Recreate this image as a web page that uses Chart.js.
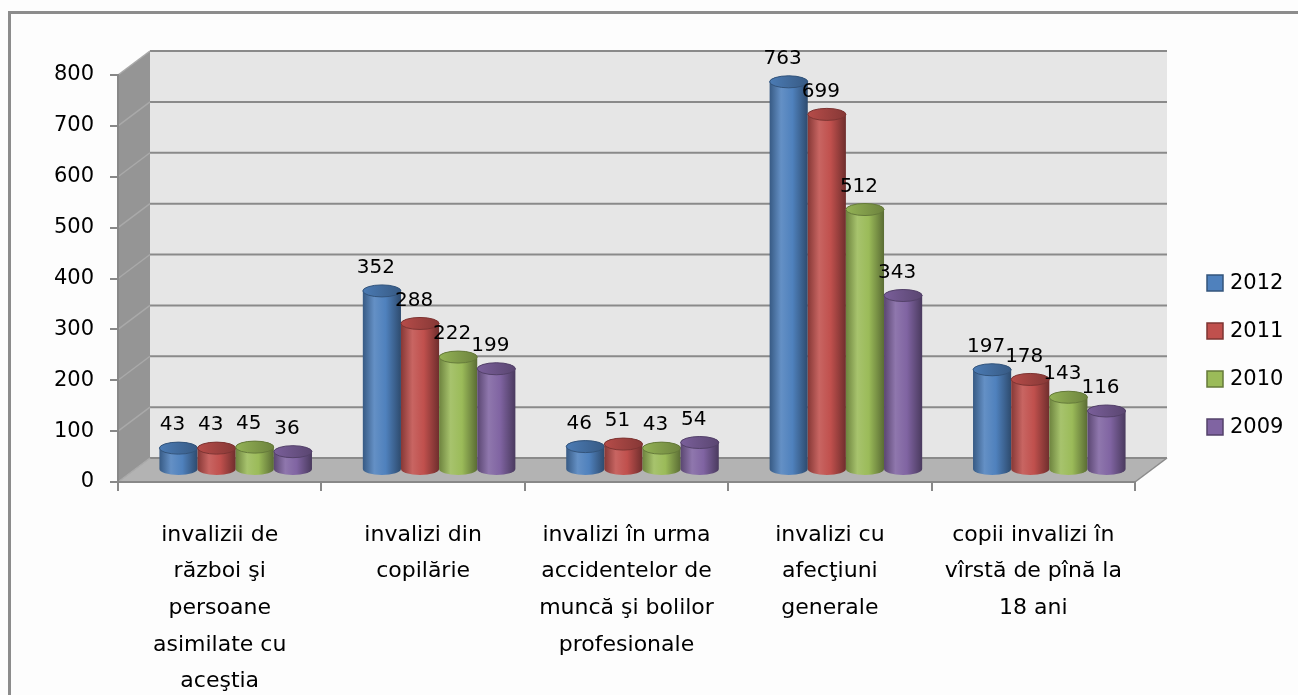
<!DOCTYPE html>
<html>
<head>
<meta charset="utf-8">
<script src="https://cdn.jsdelivr.net/npm/chart.js@4.4.1/dist/chart.umd.min.js"></script>
<style>
  html, body { margin: 0; padding: 0; background: #fdfdfd; }
  #wrap { width: 1298px; height: 695px; }
</style>
</head>
<body>
<div id="wrap"><canvas id="mycanvas" width="1298" height="695"></canvas></div>
<script>
// categories (x axis), multi-line as in the picture
var categories = [
  ['invalizii de', 'război şi', 'persoane', 'asimilate cu', 'aceştia'],
  ['invalizi din', 'copilărie'],
  ['invalizi în urma', 'accidentelor de', 'muncă şi bolilor', 'profesionale'],
  ['invalizi cu', 'afecţiuni', 'generale'],
  ['copii invalizi în', 'vîrstă de pînă la', '18 ani']
];
var seriesNames = ['2012', '2011', '2010', '2009'];
var values2012 = [43, 352, 46, 763, 197];
var values2011 = [43, 288, 51, 699, 178];
var values2010 = [45, 222, 43, 512, 143];
var values2009 = [36, 199, 54, 343, 116];
var yMin = 0, yMax = 800, yStep = 100;

var colors = ['#4F81BD', '#C0504D', '#9BBB59', '#8064A2'];
var DX = 32, DY = 24; // depth of the 3d box

function shade(hex, f) {
  var n = parseInt(hex.slice(1), 16);
  var r = n >> 16, g = (n >> 8) & 255, b = n & 255;
  function m(c) { return Math.round(f < 0 ? c * (1 + f) : c + (255 - c) * f); }
  return 'rgb(' + m(r) + ',' + m(g) + ',' + m(b) + ')';
}

function poly(ctx, pts, fill) {
  ctx.beginPath();
  ctx.moveTo(pts[0][0], pts[0][1]);
  for (var i = 1; i < pts.length; i++) ctx.lineTo(pts[i][0], pts[i][1]);
  ctx.closePath();
  ctx.fillStyle = fill;
  ctx.fill();
}

var scene3d = {
  id: 'scene3d',
  beforeDraw: function(chart) {
    var ctx = chart.ctx, a = chart.chartArea, y = chart.scales.y;
    ctx.save();
    // frame
    ctx.strokeStyle = '#8c8c8c';
    ctx.lineWidth = 3;
    ctx.strokeRect(9.5, 12.5, 1400, 800);
    // back wall
    ctx.fillStyle = '#e6e6e6';
    ctx.fillRect(a.left + DX, a.top - DY, a.right - a.left, a.bottom - a.top);
    // side wall
    poly(ctx, [[a.left, a.top], [a.left + DX, a.top - DY], [a.left + DX, a.bottom - DY], [a.left, a.bottom]], '#959595');
    // floor
    poly(ctx, [[a.left, a.bottom], [a.left + DX, a.bottom - DY], [a.right + DX, a.bottom - DY], [a.right, a.bottom]], '#b3b3b3');
    // grid lines on back and side wall
    y.ticks.forEach(function(t) {
      var py = y.getPixelForValue(t.value);
      ctx.strokeStyle = '#8a8a8a';
      ctx.lineWidth = 2;
      ctx.beginPath();
      ctx.moveTo(a.left + DX, py - DY);
      ctx.lineTo(a.right + DX, py - DY);
      ctx.stroke();
      ctx.strokeStyle = '#a9a9a9';
      ctx.lineWidth = 1.5;
      ctx.beginPath();
      ctx.moveTo(a.left, py);
      ctx.lineTo(a.left + DX, py - DY);
      ctx.stroke();
    });
    // right edge of floor
    ctx.strokeStyle = '#8a8a8a';
    ctx.lineWidth = 1.5;
    ctx.beginPath();
    ctx.moveTo(a.right, a.bottom);
    ctx.lineTo(a.right + DX, a.bottom - DY);
    ctx.stroke();
    ctx.restore();
  },
  afterDatasetsDraw: function(chart) {
    var ctx = chart.ctx;
    var n = chart.data.labels.length;
    ctx.save();
    for (var i = 0; i < n; i++) {
      for (var d = 0; d < chart.data.datasets.length; d++) {
        var el = chart.getDatasetMeta(d).data[i];
        var col = colors[d];
        var cx = el.x + DX / 2, top = el.y - DY / 2, bot = el.base - DY / 2;
        var r = el.width / 2, ry = 6;
        var g = ctx.createLinearGradient(cx - r, 0, cx + r, 0);
        g.addColorStop(0, shade(col, -0.3));
        g.addColorStop(0.3, shade(col, 0.12));
        g.addColorStop(0.6, col);
        g.addColorStop(1, shade(col, -0.42));
        ctx.beginPath();
        ctx.moveTo(cx - r, top);
        ctx.lineTo(cx - r, bot);
        ctx.ellipse(cx, bot, r, ry, 0, Math.PI, 0, true);
        ctx.lineTo(cx + r, top);
        ctx.ellipse(cx, top, r, ry, 0, 0, Math.PI, true);
        ctx.closePath();
        ctx.fillStyle = g;
        ctx.fill();
        // top face
        var g2 = ctx.createLinearGradient(cx - r, 0, cx + r, 0);
        g2.addColorStop(0, shade(col, -0.05));
        g2.addColorStop(1, shade(col, -0.3));
        ctx.beginPath();
        ctx.ellipse(cx, top, r, ry, 0, 0, Math.PI * 2);
        ctx.fillStyle = g2;
        ctx.fill();
        ctx.strokeStyle = shade(col, -0.35);
        ctx.lineWidth = 1;
        ctx.stroke();
      }
    }
    // value labels
    ctx.fillStyle = '#000';
    ctx.font = '20px "DejaVu Sans"';
    ctx.textAlign = 'center';
    ctx.textBaseline = 'middle';
    for (var d2 = 0; d2 < chart.data.datasets.length; d2++) {
      var meta = chart.getDatasetMeta(d2);
      meta.data.forEach(function(el, k) {
        var v = chart.data.datasets[d2].data[k];
        ctx.fillText(String(v), el.x + DX / 2 - 6, el.y - DY / 2 - 23);
      });
    }
    ctx.restore();
  },
  afterDraw: function(chart) {
    var ctx = chart.ctx;
    ctx.save();
    ctx.font = '21px "DejaVu Sans"';
    ctx.textAlign = 'left';
    ctx.textBaseline = 'middle';
    chart.data.datasets.forEach(function(ds, i) {
      var ly = 283 + i * 48;
      ctx.fillStyle = colors[i];
      ctx.fillRect(1207, ly - 8, 16, 16);
      ctx.strokeStyle = shade(colors[i], -0.35);
      ctx.lineWidth = 1.5;
      ctx.strokeRect(1207, ly - 8, 16, 16);
      ctx.fillStyle = '#000';
      ctx.fillText(ds.label, 1230, ly + 1);
    });
    ctx.restore();
  }
};

var seriesValues = [values2012, values2011, values2010, values2009];
var datasets = seriesNames.map(function(name, i) {
  return {
    label: name,
    data: seriesValues[i],
    backgroundColor: 'rgba(0,0,0,0)',
    borderWidth: 0,
    categoryPercentage: 0.75,
    barPercentage: 1.0
  };
});

var ctx = document.getElementById('mycanvas');
var chart = new Chart(ctx, {
  type: 'bar',
  data: { labels: categories, datasets: datasets },
  options: {
    responsive: false,
    animation: false,
    layout: { padding: { top: 75, right: 163, left: 0, bottom: 0 } },
    plugins: { legend: { display: false }, tooltip: { enabled: false } },
    scales: {
      x: {
        grid: { offset: true, drawOnChartArea: false, tickLength: 9, color: '#888', lineWidth: 2 },
        border: { color: '#888', width: 2 },
        ticks: {
          color: '#000',
          font: { family: 'DejaVu Sans', size: 22, lineHeight: 1.66 },
          padding: 26,
          maxRotation: 0,
          autoSkip: false
        },
        afterFit: function(s) { s.height = 213; }
      },
      y: {
        min: yMin,
        max: yMax,
        ticks: { stepSize: yStep, color: '#000', font: { family: 'DejaVu Sans', size: 21 }, padding: 16 },
        grid: { drawOnChartArea: false, tickLength: 8, color: '#888', lineWidth: 2 },
        border: { color: '#888', width: 2 },
        afterFit: function(s) { s.width = 118; }
      }
    }
  },
  plugins: [scene3d]
});
</script>
</body>
</html>
